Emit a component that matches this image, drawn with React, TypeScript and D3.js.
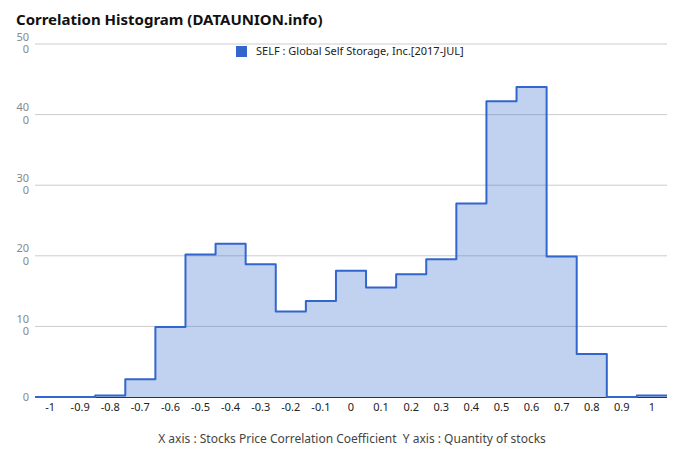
import React from "react";
import * as d3 from "d3";

const categories: number[] = [-1, -0.9, -0.8, -0.7, -0.6, -0.5, -0.4, -0.3, -0.2, -0.1, 0, 0.1, 0.2, 0.3, 0.4, 0.5, 0.6, 0.7, 0.8, 0.9, 1];
const counts: number[] = [0, 0, 2, 25, 99, 202, 217, 188, 121, 136, 179, 155, 174, 195, 274, 419, 439, 199, 61, 0, 2];
const yTicks: number[] = [0, 100, 200, 300, 400, 500];
const xTickLabels: string[] = ["-1", "-0.9", "-0.8", "-0.7", "-0.6", "-0.5", "-0.4", "-0.3", "-0.2", "-0.1", "0", "0.1", "0.2", "0.3", "0.4", "0.5", "0.6", "0.7", "0.8", "0.9", "1"];
const title = "Correlation Histogram (DATAUNION.info)";
const legendLabel = "SELF : Global Self Storage, Inc.[2017-JUL]";
const caption = "X axis : Stocks Price Correlation Coefficient  Y axis : Quantity of stocks";

const W = 680;
const H = 462;
const FONT = "'Noto Sans', 'Open Sans', sans-serif";

export default function App() {
  const half = 0.05;
  const x = d3.scaleLinear().domain([-1.05, 1.05]).range([35, 667]);
  const y = d3.scaleLinear().domain([0, 500]).range([397, 44]);

  const pts: [number, number][] = [];
  categories.forEach((c, i) => {
    pts.push([c - half, counts[i]]);
    pts.push([c + half, counts[i]]);
  });
  const line = d3.line<[number, number]>().x((d) => x(d[0])).y((d) => y(d[1]));
  const area = d3
    .area<[number, number]>()
    .x((d) => x(d[0]))
    .y0(y(0))
    .y1((d) => y(d[1]));

  return (
    <svg width={W} height={H} style={{ position: "absolute", left: 0, top: 0, background: "#fff" }} fontFamily={FONT}>
      <text x={16} y={25} fontSize={15} fontWeight="bold" fill="#111">{title}</text>
      {yTicks.map((t) =>
        t === 0 ? null : (
          <line key={"g" + t} x1={35} x2={667} y1={y(t)} y2={y(t)} stroke="#cccccc" strokeWidth={1} />
        )
      )}
      {yTicks.map((t) => {
        const s = String(t);
        if (s.length > 2) {
          return (
            <text key={"yl" + t} textAnchor="end" fontSize={11} fill="#888">
              <tspan x={29} y={y(t) - 3.5}>{s.slice(0, 2)}</tspan>
              <tspan x={29} y={y(t) + 9}>{s.slice(2)}</tspan>
            </text>
          );
        }
        return (
          <text key={"yl" + t} x={29} y={y(t) + 4} textAnchor="end" fontSize={11} fill="#888">{s}</text>
        );
      })}
      <path d={area(pts) || ""} fill="#3366cc" fillOpacity={0.3} />
      <line x1={35} x2={667} y1={y(0) + 0.5} y2={y(0) + 0.5} stroke="#333" strokeWidth={1} />
      <path d={line(pts) || ""} fill="none" stroke="#3366cc" strokeWidth={2} strokeLinejoin="round" />
      {categories.map((c, i) => (
        <text key={"xl" + i} x={x(c)} y={411} textAnchor="middle" fontSize={11} fill="#222">{xTickLabels[i]}</text>
      ))}
      <rect x={236} y={46} width={11} height={11} fill="#3366cc" />
      <text x={256} y={55} fontSize={11} fill="#222">{legendLabel}</text>
      <text x={352} y={443} textAnchor="middle" fontSize={12} fill="#444" style={{ whiteSpace: "pre" }}>{caption}</text>
    </svg>
  );
}
